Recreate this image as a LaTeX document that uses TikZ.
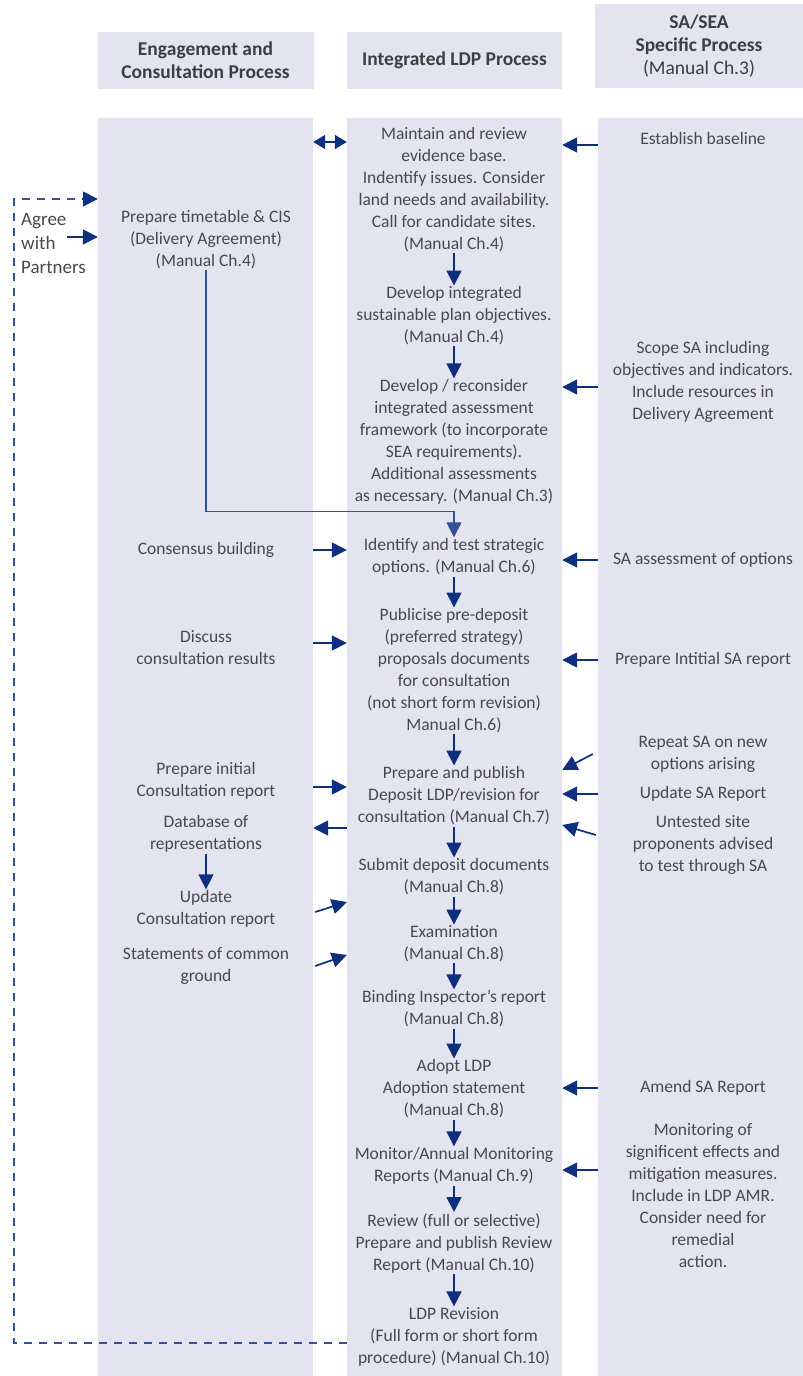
\documentclass[tikz,border=0pt]{standalone}
\usepackage{fontspec}
\setmainfont{Carlito}
\usetikzlibrary{arrows.meta,positioning}

\definecolor{colfill}{RGB}{228,228,240}
\definecolor{navy}{RGB}{14,46,128}
\definecolor{linkblue}{RGB}{52,82,150}
\definecolor{txt}{RGB}{72,72,76}

\begin{document}
\begin{tikzpicture}[
  x=1pt, y=-1pt,
  >={Triangle[length=15pt,width=15pt]},
  colbox/.style={fill=colfill,draw=none,inner sep=0pt},
  head/.style={colbox,align=center,text=txt!85!black,font=\bfseries\fontsize{19.5}{23}\selectfont},
  stage/.style={align=center,text=txt,inner sep=1pt,font=\fontsize{17.5}{22}\selectfont},
  flow/.style={draw=navy,line width=1.7pt,->},
  link/.style={draw=linkblue,line width=1.3pt,->},
  back/.style={draw=linkblue,line width=1.6pt,dash pattern=on 8pt off 7pt}
]
\useasboundingbox (0,0) rectangle (803,1376);

% column headers
\node[head,minimum width=216pt,minimum height=57pt] (hL) at (205.5,60.5) {Engagement and\\Consultation Process};
\node[head,minimum width=215pt,minimum height=57pt] (hM) at (454.5,60.5) {Integrated LDP Process};
\node[head,minimum width=208pt,minimum height=84pt] (hR) at (699,46) {SA/SEA\\Specific Process\\\textmd{(Manual Ch.3)}};

% column bodies
\node[colbox,minimum width=215pt,minimum height=1258pt] (colL) at (205.5,747) {};
\node[colbox,minimum width=215pt,minimum height=1258pt] (colM) at (454.5,747) {};
\node[colbox,minimum width=205pt,minimum height=1258pt] (colR) at (700.5,747) {};

% integrated LDP process
\node[stage] (m1) at (454,190) {Maintain and review\\evidence base.\\Indentify issues. Consider\\land needs and availability.\\Call for candidate sites.\\(Manual Ch.4)};
\node[stage] (m2) at (454,316) {Develop integrated\\sustainable plan objectives.\\(Manual Ch.4)};
\node[stage] (m3) at (454,442) {Develop / reconsider\\integrated assessment\\framework (to incorporate\\SEA requirements).\\Additional assessments\\as necessary. (Manual Ch.3)};
\node[stage] (m4) at (454,557) {Identify and test strategic\\options. (Manual Ch.6)};
\node[stage] (m5) at (454,671) {Publicise pre-deposit\\(preferred strategy)\\proposals documents\\for consultation\\(not short form revision)\\Manual Ch.6)};
\node[stage] (m6) at (454,796) {Prepare and publish\\Deposit LDP/revision for\\consultation (Manual Ch.7)};
\node[stage] (m7) at (454,877) {Submit deposit documents\\(Manual Ch.8)};
\node[stage] (m8) at (454,944) {Examination\\(Manual Ch.8)};
\node[stage] (m9) at (454,1009) {Binding Inspector's report\\(Manual Ch.8)};
\node[stage] (m10) at (454,1089) {Adopt LDP\\Adoption statement\\(Manual Ch.8)};
\node[stage] (m11) at (454,1166) {Monitor/Annual Monitoring\\Reports (Manual Ch.9)};
\node[stage] (m12) at (454,1243) {Review (full or selective)\\Prepare and publish Review\\Report (Manual Ch.10)};
\node[stage] (m13) at (454,1337) {LDP Revision\\(Full form or short form\\procedure) (Manual Ch.10)};

% engagement and consultation
\node[stage,align=left,anchor=west,font=\fontsize{19}{24}\selectfont] (agree) at (20,243) {Agree\\with\\Partners};
\node[stage] (l1) at (206,240) {Prepare timetable \& CIS\\(Delivery Agreement)\\(Manual Ch.4)};
\node[stage] (l2) at (206,550) {Consensus building};
\node[stage] (l3) at (206,648) {Discuss\\consultation results};
\node[stage] (l4) at (206,781) {Prepare initial\\Consultation report};
\node[stage] (l5) at (206,834) {Database of\\representations};
\node[stage] (l6) at (206,909) {Update\\Consultation report};
\node[stage] (l7) at (206,966) {Statements of common\\ground};

% SA/SEA
\node[stage] (r1) at (703,138) {Establish baseline};
\node[stage] (r2) at (703,382) {Scope SA including\\objectives and indicators.\\Include resources in\\Delivery Agreement};
\node[stage] (r3) at (703,560) {SA assessment of options};
\node[stage] (r4) at (703,660) {Prepare Intitial SA report};
\node[stage] (r5) at (703,754) {Repeat SA on new\\options arising};
\node[stage] (r6) at (703,794) {Update SA Report};
\node[stage] (r7) at (703,845) {Untested site\\proponents advised\\to test through SA};
\node[stage] (r8) at (703,1088) {Amend SA Report};
\node[stage] (r9) at (703,1196) {Monitoring of\\significent effects and\\mitigation measures.\\Include in LDP AMR.\\Consider need for\\remedial\\action.};

% main chain
\foreach \a/\b in {m1/m2,m2/m3,m4/m5,m5/m6,m6/m7,m7/m8,m8/m9,m9/m10,m10/m11,m11/m12,m12/m13}
  \draw[flow] (\a) -- (\b);
\draw[flow] (l5) -- (l6);

% timetable feeds strategic options
\draw[link] (l1.south) |- ([yshift=26pt]m4.north) -- (m4.north);

% across the columns
\draw[flow,{Triangle[length=12pt,width=14pt]}-{Triangle[length=12pt,width=14pt]}] ([yshift=-4pt]colL.east |- r1) -- ([yshift=-4pt]colM.west |- r1);
\draw[flow] (colL.east |- l2) -- (colM.west |- l2);
\draw[flow] ([yshift=5pt]colL.east |- l3) -- ([yshift=5pt]colM.west |- l3);
\draw[flow] ([yshift=-6pt]colL.east |- l4) -- ([yshift=-6pt]colM.west |- l4);
\draw[flow] ([yshift=6pt]colM.west |- l5) -- ([yshift=6pt]colL.east |- l5);
\draw[flow] ([xshift=2pt,yshift=-3pt]colL.east |- l6) -- ([yshift=7pt]colM.west |- l6);
\draw[flow] ([xshift=2pt]colL.east |- l7) -- ([yshift=11pt]colM.west |- l7);

\draw[flow] ([yshift=-7pt]colR.west |- r1) -- ([yshift=-7pt]colM.east |- r1);
\draw[flow] ([yshift=-5pt]colR.west |- r2) -- ([yshift=-5pt]colM.east |- r2);
\draw[flow] (colR.west |- r3) -- (colM.east |- r3);
\draw[flow] (colR.west |- r4) -- (colM.east |- r4);
\draw[flow] ([xshift=-5pt]colR.west |- r5) -- ([yshift=-16pt]colM.east |- r5);
\draw[flow] (colR.west |- r6) -- (colM.east |- r6);
\draw[flow] ([xshift=-2pt,yshift=10pt]colR.west |- r7) -- ([yshift=20pt]colM.east |- r7);
\draw[flow] (colR.west |- r8) -- (colM.east |- r8);
\draw[flow] ([yshift=-4pt]colR.west |- m11) -- ([yshift=-4pt]colM.east |- m11);

% agree with partners
\draw[flow] ([xshift=47pt,yshift=6pt]agree.west) -- ([yshift=6pt]colL.west |- agree);
\draw[back] ([yshift=-6pt]colM.west |- m13) -- ++(-333,0) |- ([yshift=44pt,xshift=-14pt]colL.west |- agree);
\draw[flow] ([yshift=44pt,xshift=-16pt]colL.west |- agree) -- ([yshift=44pt]colL.west |- agree);
\end{tikzpicture}
\end{document}
